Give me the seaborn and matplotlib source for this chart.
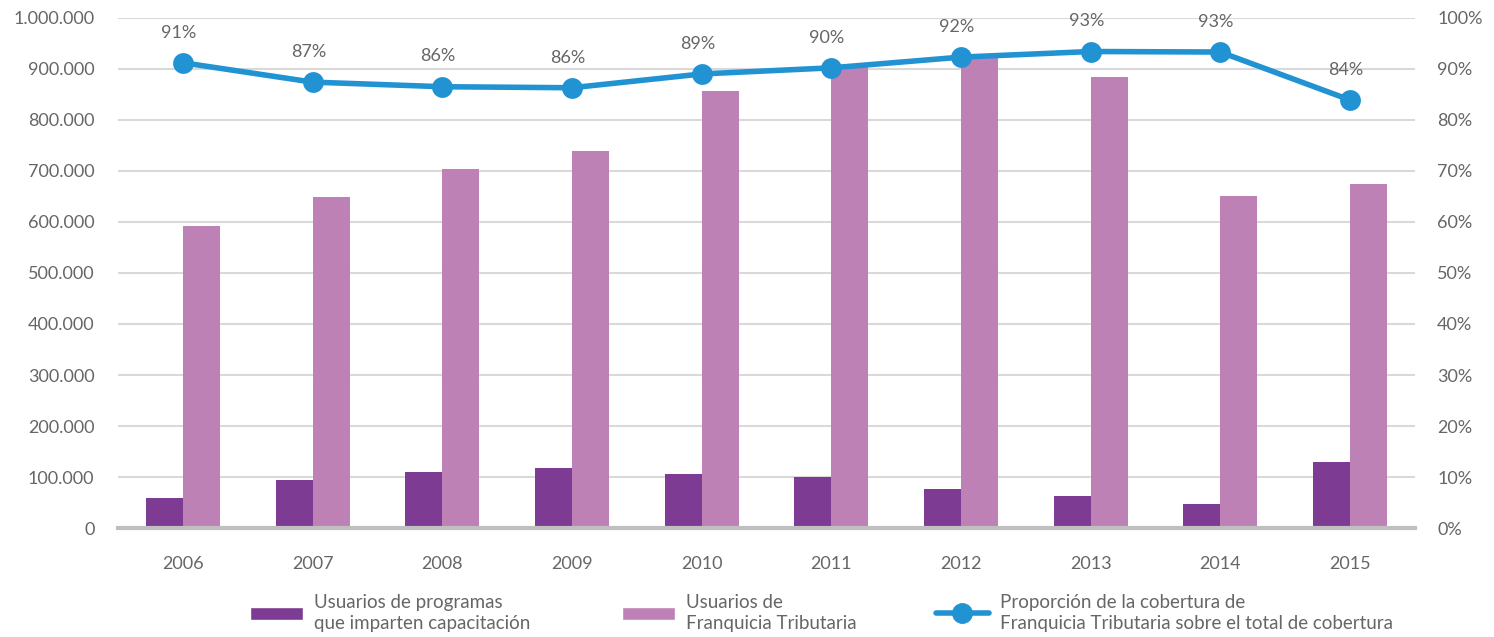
import numpy as np
import pandas as pd
import matplotlib
matplotlib.use("Agg")
import matplotlib.pyplot as plt
import seaborn as sns
from matplotlib.patches import Patch
from matplotlib.lines import Line2D

years = ["2006", "2007", "2008", "2009", "2010", "2011", "2012", "2013", "2014", "2015"]
capacitacion = [59000, 94000, 110000, 117000, 106000, 100000, 76000, 63000, 47000, 129000]
franquicia = [592000, 649000, 704000, 739000, 857000, 908000, 925000, 884000, 651000, 675000]
proporcion = [91.2, 87.4, 86.5, 86.3, 89.0, 90.2, 92.3, 93.4, 93.3, 83.9]
labels_series = ["Usuarios de programas\nque imparten capacitación",
                 "Usuarios de\nFranquicia Tributaria",
                 "Proporción de la cobertura de\nFranquicia Tributaria sobre el total de cobertura"]

c_dark = "#7E3B94"
c_light = "#BE81B6"
c_line = "#2293D2"
c_text = "#666666"

sns.set_theme(style="white")
plt.rcParams['font.family'] = ['Lato', 'DejaVu Sans']

df = pd.DataFrame({
    "year": years * 2,
    "value": capacitacion + franquicia,
    "serie": [labels_series[0]] * len(years) + [labels_series[1]] * len(years),
})

fig = plt.figure(figsize=(14.94, 6.37), dpi=100)
ax = fig.add_axes([0.079, 0.171, 0.868, 0.801])

sns.barplot(data=df, x="year", y="value", hue="serie", order=years,
            hue_order=labels_series[:2], palette=[c_dark, c_light],
            width=0.57, gap=0, ax=ax, legend=False, saturation=1, linewidth=0)
ax.set_xlim(-0.5, len(years) - 0.5)
ax.set_ylim(0, 1000000)
ax.set_yticks(np.arange(0, 1000001, 100000))
ax.set_yticklabels([f"{int(v):,}".replace(",", ".") for v in np.arange(0, 1000001, 100000)])
ax.yaxis.grid(True, color="#D9D9D9", linewidth=1.5)
ax.set_axisbelow(True)
ax.set_xlabel("")
ax.set_ylabel("")
for s in ["top", "left", "right"]:
    ax.spines[s].set_visible(False)
ax.spines["bottom"].set_color("#BFBFBF")
ax.spines["bottom"].set_linewidth(3)
ax.tick_params(axis="both", length=0, labelsize=13, colors=c_text)
ax.tick_params(axis="x", pad=20)
ax.tick_params(axis="y", pad=17)

ax2 = ax.twinx()
sns.lineplot(x=np.arange(len(years)), y=proporcion, ax=ax2, color=c_line,
             linewidth=4, marker="o", markersize=15, markeredgewidth=0)
ax2.set_ylim(0, 100)
ax2.set_yticks(np.arange(0, 101, 10))
ax2.set_yticklabels([f"{v}%" for v in range(0, 101, 10)])
for s in ["top", "left", "right", "bottom"]:
    ax2.spines[s].set_visible(False)
ax2.tick_params(axis="y", length=0, labelsize=13, colors=c_text, pad=16)
for i, p in enumerate(proporcion):
    ax2.annotate(f"{p:.0f}%", (i, p), xytext=(-3, 16), textcoords="offset points",
                 ha="center", va="bottom", fontsize=13, color=c_text)

handles = [Patch(facecolor=c_dark), Patch(facecolor=c_light),
           Line2D([0], [0], color=c_line, linewidth=4, marker="o", markersize=14)]
x_left = [250, 622, 936]
for h, lab, xl in zip(handles, labels_series, x_left):
    fig.legend([h], [lab], loc="center left", bbox_to_anchor=(xl / 1494, 24 / 637),
               frameon=False, fontsize=13.5, handlelength=2.8, handleheight=0.75,
               handletextpad=0.6, borderpad=0, borderaxespad=0, labelcolor=c_text,
               labelspacing=0)
for leg in fig.legends:
    for t in leg.get_texts():
        t.set_linespacing(1.35)

fig.savefig("out.png", dpi=100)
